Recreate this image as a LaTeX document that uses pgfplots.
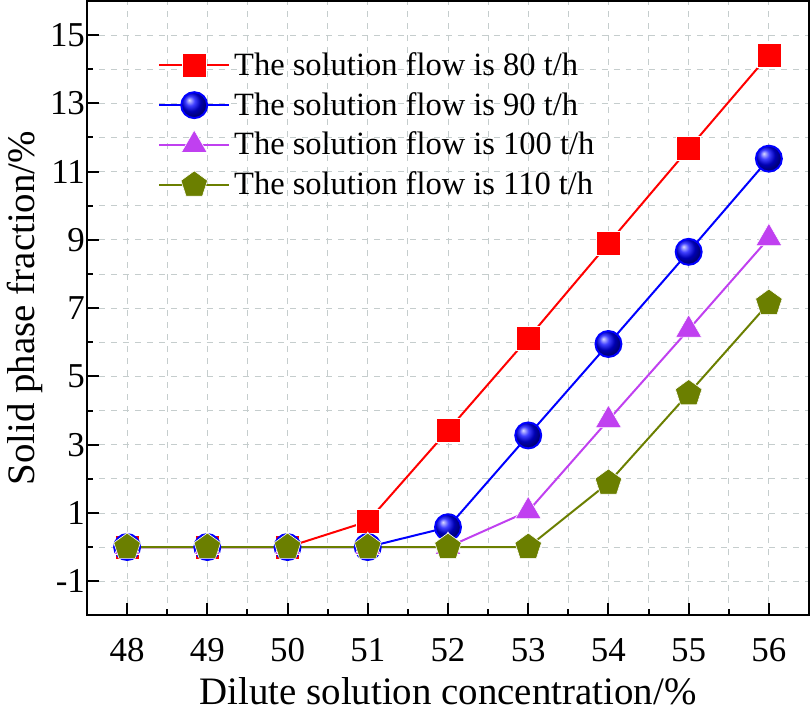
\documentclass[border=0pt]{standalone}
\usepackage{fontspec}
\setmainfont{Liberation Serif}
\usepackage{pgfplots}
\pgfplotsset{compat=1.18}
\usetikzlibrary{plotmarks}
\definecolor{cA}{HTML}{FF0000}
\definecolor{cB}{HTML}{0000FF}
\definecolor{cC}{HTML}{C040F0}
\definecolor{cD}{HTML}{6B7F00}
\definecolor{gridc}{HTML}{C5CDCD}
\begin{document}
\begin{tikzpicture}
\begin{axis}[
    scale only axis,
    width=362pt, height=308pt,
    xmin=47.5, xmax=56.5, ymin=-2, ymax=16,
    xtick={48,...,56}, ytick={-1,1,...,15},
    minor x tick num=1, minor y tick num=1,
    xtick pos=bottom, ytick pos=left,
    tick align=inside,
    major tick length=6pt, minor tick length=3pt,
    every tick/.style={black, line width=1pt},
    axis line style={line width=1pt},
    grid=both,
    major grid style={gridc, dashed, line width=0.4pt},
    minor grid style={gridc, dashed, line width=0.4pt},
    /pgf/number format/assume math mode=true,
    tick label style={font=\fontsize{17.5}{20}\selectfont},
    xticklabel style={yshift=-8pt},
    yticklabel style={xshift=2.5pt},
    label style={font=\fontsize{19.5}{22}\selectfont},
    xlabel={Dilute solution concentration/\%},
    ylabel={Solid phase fraction/\%},
    xlabel style={yshift=-1pt},
    ylabel style={yshift=-3pt},
    legend style={draw=none, fill=none, at={(0.09,0.93)}, anchor=north west,
        font=\fontsize{16.3}{19}\selectfont, row sep=3pt},
    legend cell align=left,
    legend image code/.code={
        \draw[mark repeat=2, mark phase=2] plot coordinates {(0pt,0pt) (17.5pt,0pt) (35pt,0pt)};
    },
]
\addplot[cA, line width=1pt, mark=square*, mark size=6pt, mark options={solid, draw=white, line width=0.3pt, fill=cA}]
  coordinates {(48,0) (49,0) (50,0) (51,0.75) (52,3.42) (53,6.12) (54,8.9) (55,11.67) (56,14.42)};
\addlegendentry{The solution flow is 80 t/h}
\addplot[cB, line width=1pt, mark=ball, mark size=6.5pt, mark options={ball color=cB}]
  coordinates {(48,0) (49,0) (50,0) (51,0) (52,0.58) (53,3.27) (54,5.95) (55,8.65) (56,11.38)};
\addlegendentry{The solution flow is 90 t/h}
\addplot[cC, line width=1pt, mark=triangle*, mark size=7.5pt, mark options={solid, fill=cC, draw=white, line width=0.3pt}]
  coordinates {(48,0) (49,0) (50,0) (51,0) (52,0) (53,1.05) (54,3.72) (55,6.37) (56,9.05)};
\addlegendentry{The solution flow is 100 t/h}
\addplot[cD, line width=1pt, mark=pentagon*, mark size=7pt, mark options={solid, fill=cD, draw=white, line width=0.3pt}]
  coordinates {(48,0) (49,0) (50,0) (51,0) (52,0) (53,0) (54,1.88) (55,4.5) (56,7.15)};
\addlegendentry{The solution flow is 110 t/h}
\end{axis}
\end{tikzpicture}
\end{document}
